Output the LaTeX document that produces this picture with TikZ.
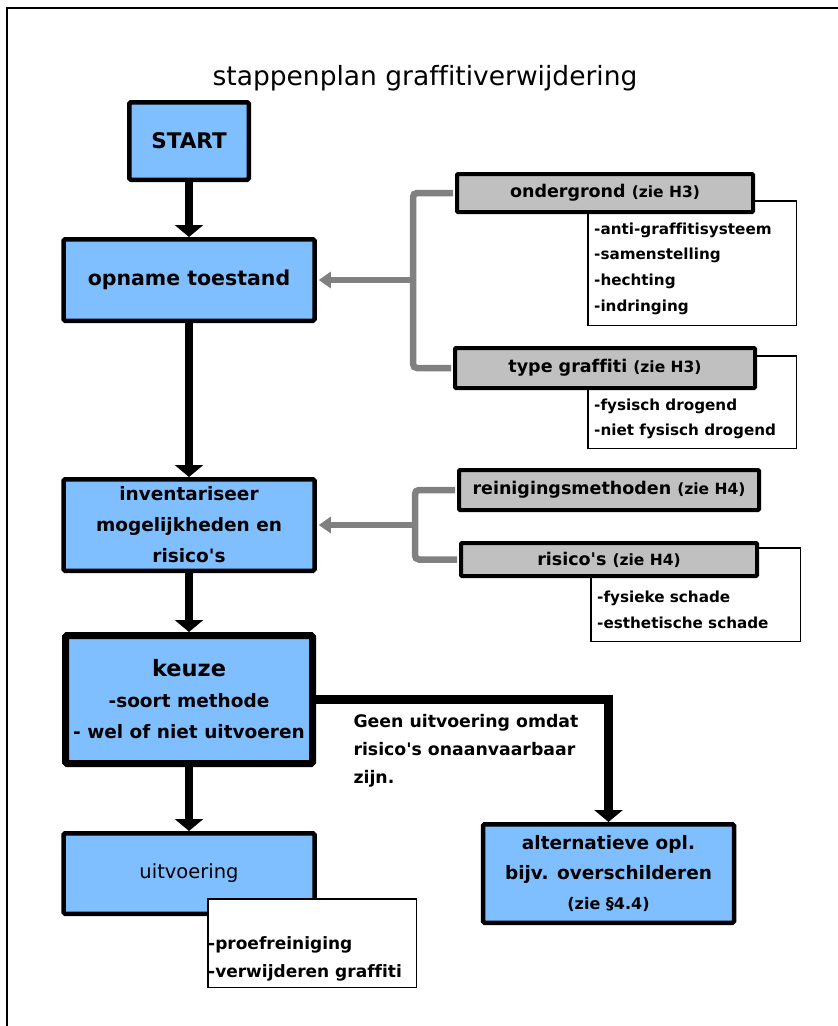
\documentclass[tikz,border=0pt]{standalone}
\usepackage{fontspec}
\setmainfont{DejaVu Sans}[Ligatures=CommonOff]
\usetikzlibrary{arrows.meta,positioning}
\definecolor{stepBlue}{HTML}{80BFFF}
\definecolor{infoGray}{HTML}{C0C0C0}
\definecolor{linkGray}{HTML}{808080}

\begin{document}
\begin{tikzpicture}[
  x=1pt, y=-1pt,
  stepbox/.style={draw=black, fill=stepBlue, line width=4.5pt, rounded corners=1.5pt, align=center, minimum width=251pt, font=\bfseries\fontsize{20.5pt}{31pt}\selectfont},
  infobox/.style={draw=black, fill=infoGray, line width=4pt, rounded corners=1pt, minimum width=298pt, minimum height=38pt, font=\bfseries\fontsize{17.5pt}{21pt}\selectfont},
  listbox/.style={draw=black, fill=white, line width=1.5pt, minimum width=208.5pt},
  listtext/.style={align=left, anchor=west, inner sep=0pt, font=\bfseries\fontsize{15.2pt}{25.7pt}\selectfont},
  flowarrow/.style={-{Triangle[length=12pt, width=28pt]}, line width=8.5pt, draw=black},
  infoarrow/.style={-{Triangle[length=12pt, width=16pt]}, line width=6.5pt, draw=linkGray, shorten >=2pt},
  infoline/.style={line width=6.5pt, draw=linkGray, rounded corners=4pt, shorten <=2pt, shorten >=2pt}
]
\useasboundingbox (0,0) rectangle (838,1026);
\draw[line width=2pt] (7,1026) -- (7,8) -- (838,8);

\node[font=\fontsize{26.5pt}{30pt}\selectfont, anchor=base] (title) at (425,85) {stappenplan graffitiverwijdering};

\node[stepbox, minimum width=119.5pt, minimum height=77.5pt, font=\bfseries\fontsize{21.5pt}{31pt}\selectfont] (start) at (189,141) {START};
\node[stepbox, minimum height=81.5pt] (opname) at (189,280) {opname toestand};
\node[stepbox, minimum height=91.5pt, font=\bfseries\fontsize{18.5pt}{31pt}\selectfont] (invent) at (189,525) {inventariseer\\mogelijkheden en\\risico\textquotesingle{}s};
\node[stepbox, line width=7pt, minimum width=247pt, minimum height=128pt, font=\bfseries\fontsize{18.5pt}{31pt}\selectfont] (keuze) at (189,699.5) {{\fontsize{22.5pt}{31pt}\selectfont keuze}\\-soort methode\\- wel of niet uitvoeren};
\node[stepbox, minimum height=80.5pt, font=\fontsize{19.5pt}{24pt}\selectfont] (uitv) at (189,873.5) {uitvoering};
\node[stepbox, minimum height=98.5pt, font=\bfseries\fontsize{18.5pt}{30pt}\selectfont] (alt) at (608.5,873.5) {alternatieve opl.\\bijv. overschilderen\\{\fontsize{16pt}{20pt}\selectfont (zie §4.4)}};

\node[listbox, minimum height=124.5pt] (ondList) at (692,263) {};
\node[listtext] (ondItems) at (594,268.5) {-anti-graffitisysteem\\-samenstelling\\-hechting\\-indringing};
\node[listbox, minimum height=92.5pt] (typeList) at (692,402) {};
\node[listtext] (typeItems) at (594,419) {-fysisch drogend\\-niet fysisch drogend};
\node[listbox, minimum width=209.5pt, minimum height=93.5pt] (risList) at (695.5,594.5) {};
\node[listtext] (risItems) at (597,610) {-fysieke schade\\-esthetische schade};
\node[listbox, minimum height=88.5pt] (uitvList) at (312,943) {};
\node[listtext, font=\bfseries\fontsize{17pt}{28pt}\selectfont] (uitvItems) at (208,959) {-proefreiniging\\-verwijderen graffiti};

\node[infobox, minimum width=296pt] (onder) at (605,193) {ondergrond {\fontsize{15.5pt}{18pt}\selectfont(zie H3)}};
\node[infobox, minimum width=300pt, minimum height=40pt] (typeg) at (605,368) {type graffiti {\fontsize{15.5pt}{18pt}\selectfont(zie H3)}};
\node[infobox, minimum width=300pt, minimum height=40pt] (reinig) at (609,490) {reinigingsmethoden {\fontsize{15.5pt}{18pt}\selectfont(zie H4)}};
\node[infobox, minimum width=296pt, minimum height=33pt] (risico) at (609,559.5) {risico\textquotesingle{}s {\fontsize{15.5pt}{18pt}\selectfont(zie H4)}};

\node[align=left, anchor=north west, font=\bfseries\fontsize{17.3pt}{28pt}\selectfont] (geenText) at (350,711) {Geen uitvoering omdat\\risico\textquotesingle{}s onaanvaarbaar\\zijn.};

\foreach \from/\to in {start/opname, opname/invent, invent/keuze, keuze/uitv}
  \draw[flowarrow] (\from) -- (\to);
\draw[flowarrow] (keuze.east) -| (alt.north);

\coordinate (splitA) at (413,280);
\draw[infoline] (onder.west) -| (splitA) |- (typeg.west);
\draw[infoarrow] (splitA) -- (opname.east);
\coordinate (splitB) at (415,525);
\draw[infoline] (reinig.west) -| (splitB) |- (risico.west);
\draw[infoarrow] (splitB) -- (invent.east);
\end{tikzpicture}
\end{document}
